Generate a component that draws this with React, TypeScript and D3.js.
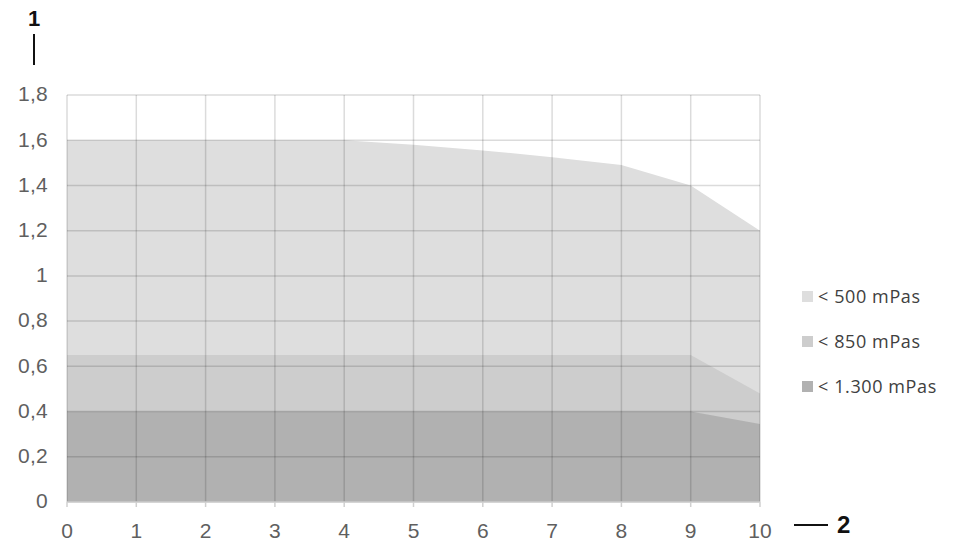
import React from "react";
import * as d3 from "d3";

const xValues = [0, 1, 2, 3, 4, 5, 6, 7, 8, 9, 10];
const series500 = [1.6, 1.6, 1.6, 1.6, 1.6, 1.58, 1.555, 1.525, 1.49, 1.4, 1.2];
const series850 = [0.65, 0.65, 0.65, 0.65, 0.65, 0.65, 0.65, 0.65, 0.65, 0.65, 0.48];
const series1300 = [0.4, 0.4, 0.4, 0.4, 0.4, 0.4, 0.4, 0.4, 0.4, 0.4, 0.345];
const seriesNames = ["< 500 mPas", "< 850 mPas", "< 1.300 mPas"];
const seriesColors = ["#dedede", "#cdcdcd", "#b1b1b1"];
const yTicks = [0, 0.2, 0.4, 0.6, 0.8, 1, 1.2, 1.4, 1.6, 1.8];
const yTickLabels = ["0", "0,2", "0,4", "0,6", "0,8", "1", "1,2", "1,4", "1,6", "1,8"];
const xTicks = [0, 1, 2, 3, 4, 5, 6, 7, 8, 9, 10];

export default function App() {
  const W = 955, H = 545;
  const x = d3.scaleLinear().domain([0, 10]).range([67, 760]);
  const y = d3.scaleLinear().domain([0, 1.8]).range([502, 95]);
  const all = [series500, series850, series1300];
  const area = d3
    .area<number>()
    .x((_, i) => x(xValues[i]))
    .y0(y(0))
    .y1((d) => y(d));
  const tickFont = "'Liberation Sans', Arial, sans-serif";
  const legFont = "'Open Sans', sans-serif";
  return (
    <svg width={W} height={H} style={{ position: "absolute", left: 0, top: 0, background: "#fff" }}>
      {all.map((s, i) => (
        <path key={i} d={area(s) || ""} fill={seriesColors[i]} />
      ))}
      {yTicks.map((t, i) => (
        <line key={"gy" + i} x1={x(0)} x2={x(10)} y1={y(t)} y2={y(t)} stroke="#000" strokeOpacity={0.14} strokeWidth={1.5} />
      ))}
      {xTicks.map((t, i) => (
        <line key={"gx" + i} x1={x(t)} x2={x(t)} y1={y(0)} y2={y(1.8)} stroke="#000" strokeOpacity={0.14} strokeWidth={1.5} />
      ))}
      <line x1={x(0)} x2={x(10)} y1={y(0)} y2={y(0)} stroke="#d0d0d0" strokeWidth={1.5} />
      {xTicks.map((t, i) => (
        <line key={"tk" + i} x1={x(t)} x2={x(t)} y1={y(0)} y2={y(0) + 5} stroke="#d0d0d0" strokeWidth={1.5} />
      ))}
      {yTicks.map((t, i) => (
        <text key={"yl" + i} x={48} y={y(t)} dy="0.3em" textAnchor="end" fontFamily={tickFont} fontSize={21} letterSpacing={0.3} fill="#5f5f5f">
          {yTickLabels[i]}
        </text>
      ))}
      {xTicks.map((t, i) => (
        <text key={"xl" + i} x={x(t)} y={538} textAnchor="middle" fontFamily={tickFont} fontSize={21} fill="#5f5f5f">
          {String(t)}
        </text>
      ))}
      {seriesNames.map((n, i) => (
        <g key={"lg" + i}>
          <rect x={802} y={291 + i * 45} width={11} height={11} fill={seriesColors[i]} />
          <text x={818} y={303 + i * 45} fontFamily={legFont} fontSize={18} letterSpacing={0.6} fill="#404040">
            {n}
          </text>
        </g>
      ))}
      <text x={34} y={26} textAnchor="middle" fontFamily={tickFont} fontWeight="bold" fontSize={22} fill="#111">1</text>
      <line x1={34} x2={34} y1={34} y2={65} stroke="#111" strokeWidth={2} />
      <line x1={794} x2={828} y1={525} y2={525} stroke="#111" strokeWidth={2} />
      <text x={837} y={533} fontFamily={tickFont} fontWeight="bold" fontSize={24} fill="#111">2</text>
    </svg>
  );
}
